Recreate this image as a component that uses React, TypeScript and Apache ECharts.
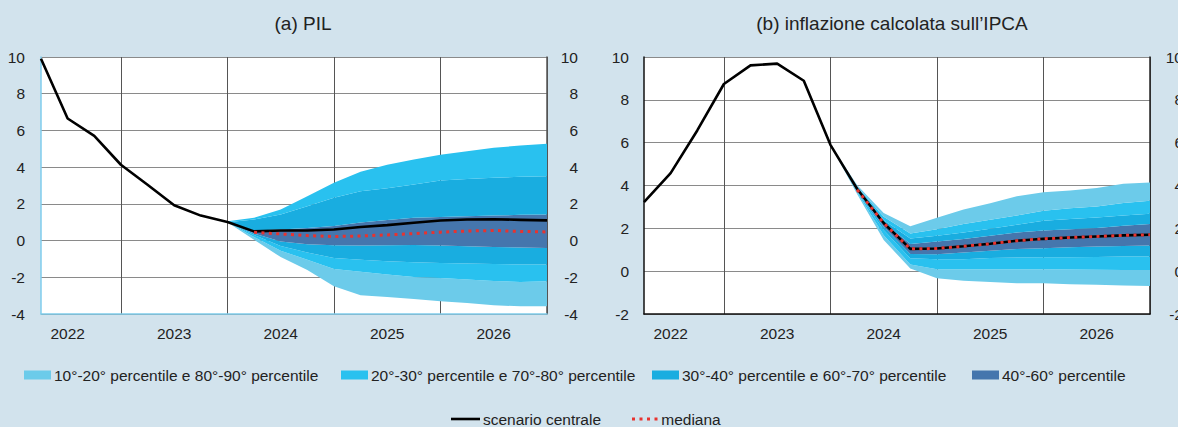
import React, { useEffect, useRef } from "react";
import * as echarts from "echarts";

const quarters = [
  "2022Q1", "2022Q2", "2022Q3", "2022Q4",
  "2023Q1", "2023Q2", "2023Q3", "2023Q4",
  "2024Q1", "2024Q2", "2024Q3", "2024Q4",
  "2025Q1", "2025Q2", "2025Q3", "2025Q4",
  "2026Q1", "2026Q2", "2026Q3", "2026Q4",
];

const titles = ["(a) PIL", "(b) inflazione calcolata sull\u2019IPCA"];
const bandNames = [
  "10°-20° percentile e 80°-90° percentile",
  "20°-30° percentile e 70°-80° percentile",
  "30°-40° percentile e 60°-70° percentile",
  "40°-60° percentile",
];
const lineNames = ["scenario centrale", "mediana"];

// (a) PIL
const pilCentral = [9.9, 6.65, 5.7, 4.13, 3.04, 1.92, 1.36, 1.01, 0.5, 0.55, 0.55, 0.6, 0.74, 0.84, 0.97, 1.09, 1.15, 1.16, 1.13, 1.1];
const pilMedian = [null, null, null, null, null, null, null, null, 0.45, 0.36, 0.27, 0.22, 0.25, 0.31, 0.38, 0.46, 0.52, 0.55, 0.5, 0.47];
const pilP10 = [null, null, null, null, null, null, null, 1.0, 0.05, -0.9, -1.6, -2.49, -2.98, -3.08, -3.18, -3.31, -3.4, -3.53, -3.58, -3.58];
const pilP20 = [null, null, null, null, null, null, null, 1.0, 0.2, -0.55, -1.05, -1.55, -1.7, -1.85, -1.98, -2.04, -2.12, -2.2, -2.25, -2.22];
const pilP30 = [null, null, null, null, null, null, null, 1.0, 0.3, -0.3, -0.65, -0.95, -1.05, -1.12, -1.18, -1.22, -1.25, -1.28, -1.3, -1.31];
const pilP40 = [null, null, null, null, null, null, null, 1.0, 0.38, -0.05, -0.2, -0.26, -0.27, -0.25, -0.24, -0.27, -0.31, -0.35, -0.38, -0.4];
const pilP60 = [null, null, null, null, null, null, null, 1.0, 0.55, 0.6, 0.68, 0.8, 0.98, 1.12, 1.24, 1.29, 1.33, 1.36, 1.4, 1.42];
const pilP70 = [null, null, null, null, null, null, null, 1.0, 1.15, 1.42, 1.87, 2.33, 2.69, 2.85, 3.05, 3.27, 3.36, 3.42, 3.47, 3.51];
const pilP90 = [null, null, null, null, null, null, null, 1.05, 1.24, 1.69, 2.42, 3.15, 3.75, 4.13, 4.42, 4.67, 4.87, 5.05, 5.18, 5.27];

// (b) HICP inflation
const hicpCentral = [3.22, 4.58, 6.57, 8.74, 9.61, 9.69, 8.89, 5.9, 3.85, 2.25, 1.04, 1.06, 1.16, 1.28, 1.42, 1.51, 1.57, 1.62, 1.67, 1.7];
const hicpMedian = [null, null, null, null, null, null, null, null, 3.8, 2.25, 1.04, 1.06, 1.16, 1.28, 1.42, 1.51, 1.57, 1.62, 1.67, 1.7];
const hicpP10 = [null, null, null, null, null, null, null, 5.9, 3.6, 1.45, 0.13, -0.33, -0.45, -0.51, -0.56, -0.56, -0.61, -0.64, -0.67, -0.69];
const hicpP20 = [null, null, null, null, null, null, null, 5.9, 3.68, 1.68, 0.31, 0.09, 0.09, 0.09, 0.09, 0.09, 0.08, 0.07, 0.06, 0.05];
const hicpP30 = [null, null, null, null, null, null, null, 5.9, 3.73, 1.92, 0.6, 0.56, 0.56, 0.61, 0.64, 0.65, 0.65, 0.66, 0.68, 0.68];
const hicpP40 = [null, null, null, null, null, null, null, 5.9, 3.78, 2.07, 0.8, 0.79, 0.87, 0.95, 1.03, 1.07, 1.12, 1.15, 1.18, 1.2];
const hicpP60 = [null, null, null, null, null, null, null, 5.9, 3.88, 2.26, 1.27, 1.39, 1.5, 1.65, 1.81, 1.9, 1.96, 2.01, 2.12, 2.2];
const hicpP70 = [null, null, null, null, null, null, null, 5.9, 3.92, 2.38, 1.52, 1.65, 1.81, 1.98, 2.17, 2.35, 2.43, 2.51, 2.6, 2.68];
const hicpP80 = [null, null, null, null, null, null, null, 5.9, 3.96, 2.54, 1.76, 1.96, 2.2, 2.4, 2.6, 2.82, 2.94, 3.02, 3.18, 3.29];
const hicpP90 = [null, null, null, null, null, null, null, 5.9, 4.02, 2.72, 2.1, 2.5, 2.88, 3.17, 3.5, 3.68, 3.77, 3.88, 4.08, 4.14];

const LIGHT = "#6ccbea";
const BRIGHT = "#29c1ef";
const MID = "#19ade0";
const STEEL = "#4576ad";
const RED = "#e8332f";
const BG = "#d2e3ed";
const TXT = "#222222";
const FONT = "'Liberation Sans', Arial, Helvetica, sans-serif";

function makeBands(gridIdx: number, bounds: (number | null)[][], fills: string[], names: string[]) {
  const stack = "band" + gridIdx;
  const yIdx = gridIdx * 2;
  const out: any[] = [
    {
      type: "line", name: "__base" + gridIdx, xAxisIndex: gridIdx, yAxisIndex: yIdx,
      stack, stackStrategy: "all", data: bounds[0], symbol: "none", silent: true,
      lineStyle: { width: 0, opacity: 0 }, z: 1,
    },
  ];
  for (let k = 1; k < bounds.length; k++) {
    const diff = bounds[k].map((v, i) => {
      const b = bounds[k - 1][i];
      return v == null || b == null ? null : +(v - b).toFixed(4);
    });
    out.push({
      type: "line", name: names[k - 1], xAxisIndex: gridIdx, yAxisIndex: yIdx,
      stack, stackStrategy: "all", data: diff, symbol: "none", silent: true,
      color: fills[k - 1],
      lineStyle: { width: 0, opacity: 0 },
      areaStyle: { color: fills[k - 1], opacity: 1 },
      z: 1,
    });
  }
  return out;
}

function lineSeries(gridIdx: number, central: (number | null)[], median: (number | null)[]) {
  const yIdx = gridIdx * 2;
  return [
    {
      type: "line", name: lineNames[0], xAxisIndex: gridIdx, yAxisIndex: yIdx,
      data: central, symbol: "none", silent: true, color: "#000",
      lineStyle: { color: "#000", width: 2.6 }, z: 5,
    },
    {
      type: "line", name: lineNames[1], xAxisIndex: gridIdx, yAxisIndex: yIdx,
      data: median, symbol: "none", silent: true, color: RED,
      lineStyle: { color: RED, width: 3, type: [3, 4.4], cap: "butt" }, z: 6,
    },
  ];
}

const gridLeft = [41, 644];
const gridTop = 57;
const gridW = 506;
const gridH = 257;

function xAxis(gridIdx: number, lineColor: string) {
  return {
    gridIndex: gridIdx, type: "category", data: quarters, boundaryGap: false,
    axisLine: { show: true, onZero: false, lineStyle: { color: lineColor, width: 1.5 } },
    axisTick: { show: false },
    axisLabel: {
      interval: (i: number) => i % 4 === 1,
      formatter: (v: string) => v.slice(0, 4),
      color: TXT, fontSize: 15.5, fontFamily: FONT, margin: 11,
    },
    splitLine: { show: true, interval: (i: number) => i % 4 === 3, lineStyle: { color: "#555", width: 1 } },
  };
}

function yAxes(gridIdx: number, min: number, leftLine: string, rightLine: string, rightMargin: number) {
  return [
    {
      gridIndex: gridIdx, type: "value", min, max: 10, interval: 2, position: "left",
      axisLine: { show: true, onZero: false, lineStyle: { color: leftLine, width: 1.5 } },
      axisTick: { show: false },
      axisLabel: { color: TXT, fontSize: 15.5, fontFamily: FONT, margin: gridIdx === 0 ? 16 : 15 },
      splitLine: { show: true, lineStyle: { color: "#8a8a8a", width: 1 } },
    },
    {
      gridIndex: gridIdx, type: "value", min, max: 10, interval: 2, position: "right",
      axisLine: { show: true, onZero: false, lineStyle: { color: rightLine, width: 1.5 } },
      axisTick: { show: false },
      axisLabel: { color: TXT, fontSize: 15.5, fontFamily: FONT, margin: rightMargin, align: "right" },
      splitLine: { show: false },
    },
  ];
}

function legendItem(name: string, left: number, top: number, icon: string, color: string, w: number, h: number) {
  return {
    data: [{ name, icon, itemStyle: { color, opacity: 1 } }],
    left, top, padding: 0, itemWidth: w, itemHeight: h,
    selectedMode: false,
    textStyle: { color: TXT, fontSize: 15.5, fontFamily: FONT, padding: [0, 0, 0, -2] },
  };
}

const dotsIcon = "path://M0,0h3v3h-3z M7.5,0h3v3h-3z M15,0h3v3h-3z M22.5,0h3v3h-3z";

export default function App() {
  const ref = useRef<HTMLDivElement>(null);
  useEffect(() => {
    if (!ref.current) return;
    const chart = echarts.init(ref.current, null, { renderer: "svg" });
    const series = [
      ...makeBands(0, [pilP10, pilP20, pilP30, pilP40, pilP60, pilP70, pilP90],
        [LIGHT, BRIGHT, MID, STEEL, MID, BRIGHT],
        [bandNames[0], bandNames[1], bandNames[2], bandNames[3], bandNames[2], bandNames[1]]),
      ...makeBands(1, [hicpP10, hicpP20, hicpP30, hicpP40, hicpP60, hicpP70, hicpP80, hicpP90],
        [LIGHT, BRIGHT, MID, STEEL, MID, BRIGHT, LIGHT],
        [bandNames[0], bandNames[1], bandNames[2], bandNames[3], bandNames[2], bandNames[1], bandNames[0]]),
      ...lineSeries(0, pilCentral, pilMedian),
      ...lineSeries(1, hicpCentral, hicpMedian),
    ];
    chart.setOption({
      animation: false,
      backgroundColor: BG,
      textStyle: { fontFamily: FONT },
      grid: gridLeft.map((l) => ({
        left: l, top: gridTop, width: gridW, height: gridH,
        show: true, backgroundColor: "#ffffff", borderWidth: 0,
        containLabel: false, outerBoundsMode: "none",
      })),
      xAxis: [xAxis(0, "#7fcdec"), xAxis(1, "#111")],
      yAxis: [...yAxes(0, -4, "#7fcdec", "#555", 31), ...yAxes(1, -2, "#111", "#222", 33)],
      legend: [
        legendItem(bandNames[0], 24, 367, "rect", LIGHT, 27, 9),
        legendItem(bandNames[1], 341, 367, "rect", BRIGHT, 27, 9),
        legendItem(bandNames[2], 652, 367, "rect", MID, 27, 9),
        legendItem(bandNames[3], 972, 367, "rect", STEEL, 27, 9),
        legendItem(lineNames[0], 451, 411, "rect", "#000", 29, 2.6),
        legendItem(lineNames[1], 632, 411, dotsIcon, RED, 27, 3),
      ],
      graphic: [
        { type: "text", x: 303, y: 23, style: { text: titles[0], fill: TXT, font: `19px ${FONT}`, align: "center", verticalAlign: "middle" } },
        { type: "text", x: 892, y: 23, style: { text: titles[1], fill: TXT, font: `19px ${FONT}`, align: "center", verticalAlign: "middle" } },
      ],
      series,
    });
    return () => chart.dispose();
  }, []);
  return (
    <div
      ref={ref}
      style={{ position: "fixed", left: 0, top: 0, width: 1178, height: 427, background: BG }}
    />
  );
}
